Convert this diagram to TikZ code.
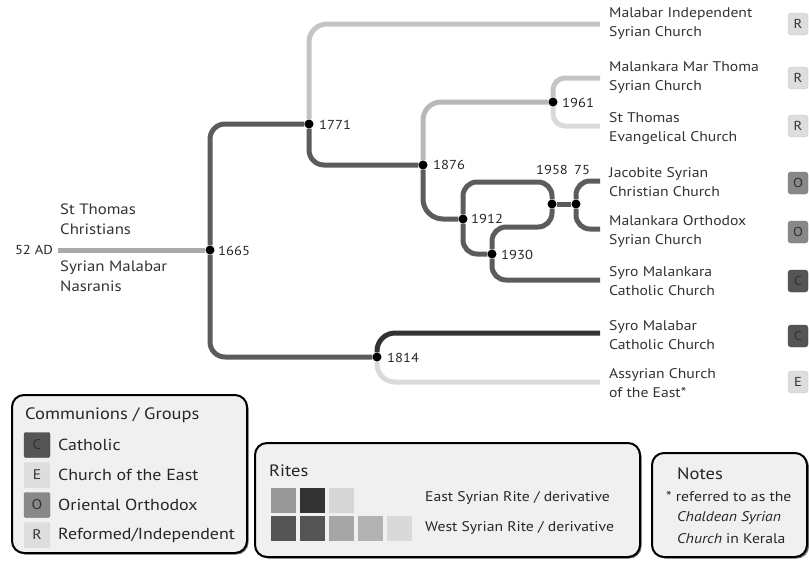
\documentclass[tikz,border=0pt]{standalone}
\usepackage{fontspec}
\setmainfont{PT Sans}[FakeStretch=1.12]
\usetikzlibrary{backgrounds}
\definecolor{trunk}{HTML}{AAAAAA}
\definecolor{dk}{HTML}{5C5C5C}
\definecolor{dkk}{HTML}{333333}
\definecolor{lt}{HTML}{C4C4C4}
\definecolor{ltt}{HTML}{DADADA}
\definecolor{mid}{HTML}{B8B8B8}
\definecolor{boxfill}{HTML}{F0F0F0}
\definecolor{tagC}{HTML}{555555}
\definecolor{tagO}{HTML}{888888}
\definecolor{tagL}{HTML}{DDDDDD}
\begin{document}
\begin{tikzpicture}[x=1pt,y=-1pt,
  br/.style={line width=5pt,rounded corners=15pt},
  dot/.style={circle,fill=black,inner sep=0pt,minimum size=9pt},
  yr/.style={anchor=west,font=\fontsize{13}{14}\selectfont,inner sep=0pt,text=black!85},
  leaf/.style={anchor=west,align=left,font=\fontsize{14}{19}\selectfont,inner sep=0pt,text=black!80},
  tagbox/.style={minimum width=20pt,minimum height=22pt,inner sep=0pt,rounded corners=3pt,font=\fontsize{13}{14}\selectfont,text=black!80},
  lsq/.style={minimum width=26pt,minimum height=25pt,inner sep=0pt,rounded corners=2pt,font=\fontsize{14}{15}\selectfont,text=black!80},
  rsq/.style={minimum size=25pt,inner sep=0pt},
  legshadow/.style={fill=black!55,rounded corners=12pt},
  legbox/.style={draw=black,line width=2pt,fill=boxfill,rounded corners=12pt},
  legtitle/.style={anchor=west,inner sep=0pt,font=\fontsize{16.5}{18}\selectfont,text=black!85},
  legtext/.style={anchor=west,inner sep=0pt,font=\fontsize{16}{17}\selectfont,text=black!85},
  rtext/.style={anchor=west,inner sep=0pt,font=\fontsize{14}{15}\selectfont,text=black!85}
]
\useasboundingbox (0,0) rectangle (809,560);

% dots (branch points)
\node[dot] (n1665) at (210,250) {};
\node[dot] (n1771) at (309,124) {};
\node[dot] (n1876) at (423,165) {};
\node[dot] (n1961) at (553,102) {};
\node[dot] (n1912) at (463,219) {};
\node[dot] (n1930) at (492,254) {};
\node[dot] (n1958) at (552,204) {};
\node[dot] (n1975) at (576,204) {};
\node[dot] (n1814) at (377,357) {};

% leaf ends
\coordinate (start) at (58,250);
\coordinate (lMIS) at (600,24);
\coordinate (lMMT) at (600,78);
\coordinate (lSTE) at (600,126);
\coordinate (lJSC) at (600,181);
\coordinate (lMOS) at (600,229);
\coordinate (lSMC) at (600,280);
\coordinate (lSYM) at (600,333);
\coordinate (lACE) at (600,382);

\begin{scope}[on background layer]
  \draw[br,trunk] (start) -- (n1665);
  \draw[br,dk] (n1665) |- (n1771);
  \draw[br,dk] (n1665) |- (n1814);
  \draw[br,lt,rounded corners=18pt] (n1771) |- (lMIS);
  \draw[br,dk] (n1771) |- (n1876);
  \draw[br,mid,rounded corners=18pt] (n1876) |- (n1961);
  \draw[br,lt,rounded corners=12pt] (n1961) |- (lMMT);
  \draw[br,ltt,rounded corners=12pt] (n1961) |- (lSTE);
  \draw[br,dk,rounded corners=20pt] (n1876) |- (n1912);
  \draw[br,dk,rounded corners=14pt] (n1912) -- (463,182) -- (552,182) -- (n1958);
  \draw[br,dk,rounded corners=14pt] (n1930) -- (492,227) -- (552,227) -- (n1958);
  \draw[br,dk,rounded corners=14pt] (n1912) |- (n1930);
  \draw[br,dk] (n1958) -- (n1975);
  \draw[br,dk,rounded corners=14pt] (n1975) |- (lJSC);
  \draw[br,dk,rounded corners=14pt] (n1975) |- (lMOS);
  \draw[br,dk,rounded corners=14pt] (n1930) |- (lSMC);
  \draw[br,dkk,rounded corners=18pt] (n1814) |- (lSYM);
  \draw[br,ltt,rounded corners=18pt] (n1814) |- (lACE);
\end{scope}

% year labels
\node[yr] (y1665) at (218,251) {1665};
\node[yr] (y1771) at (319,125) {1771};
\node[yr] (y1876) at (433,165) {1876};
\node[yr] (y1961) at (562,103) {1961};
\node[yr] (y1912) at (471,219) {1912};
\node[yr] (y1930) at (501,255) {1930};
\node[yr,anchor=center] (y1958) at (552,170) {1958};
\node[yr,anchor=center] (y1975) at (582,170) {75};
\node[yr] (y1814) at (387,358) {1814};

% left labels
\node[yr,anchor=east] (ad) at (53,250) {52 AD};
\node[leaf,font=\fontsize{15}{20}\selectfont] (stc) at (60,219) {St Thomas\\Christians};
\node[leaf,font=\fontsize{15}{20}\selectfont] (smn) at (60,276) {Syrian Malabar\\Nasranis};

% leaf labels
\node[leaf] (tMIS) at (609,24) {Malabar Independent\\Syrian Church};
\node[leaf] (tMMT) at (609,78) {Malankara Mar Thoma\\Syrian Church};
\node[leaf] (tSTE) at (609,128) {St Thomas\\Evangelical Church};
\node[leaf] (tJSC) at (609,182) {Jacobite Syrian\\Christian Church};
\node[leaf] (tMOS) at (609,231) {Malankara Orthodox\\Syrian Church};
\node[leaf] (tSMC) at (609,281) {Syro Malankara\\Catholic Church};
\node[leaf] (tSYM) at (609,335) {Syro Malabar\\Catholic Church};
\node[leaf] (tACE) at (609,383) {Assyrian Church\\of the East*};

% tags
\node[tagbox,fill=tagL,draw=black!20] (gMIS) at (798,24) {R};
\node[tagbox,fill=tagL,draw=black!20] (gMMT) at (798,78) {R};
\node[tagbox,fill=tagL,draw=black!20] (gSTE) at (798,126) {R};
\node[tagbox,fill=tagO,draw=black!55] (gJSC) at (798,183) {O};
\node[tagbox,fill=tagO,draw=black!55] (gMOS) at (798,232) {O};
\node[tagbox,fill=tagC,draw=black!75] (gSMC) at (798,281) {C};
\node[tagbox,fill=tagC,draw=black!75] (gSYM) at (798,336) {C};
\node[tagbox,fill=tagL,draw=black!20] (gACE) at (798,382) {E};

% legend 1
\fill[legshadow] (13.5,396.5) rectangle (248.5,554.5);
\draw[legbox] (12,395) rectangle (247,553);
\node[legtitle] (lt1) at (25,415) {Communions / Groups};
\node[lsq,fill=tagC,draw=black!75] (sqC) at (37,445) {C};
\node[lsq,fill=tagL,draw=black!15] (sqE) at (37,475) {E};
\node[lsq,fill=tagO,draw=black!55] (sqO) at (37,505) {O};
\node[lsq,fill=tagL,draw=black!15] (sqR) at (37,535) {R};
\node[legtext] at (58,445) {Catholic};
\node[legtext] at (58,475) {Church of the East};
\node[legtext] at (58,505) {Oriental Orthodox};
\node[legtext] at (58,535) {Reformed/Independent};

% legend 2
\fill[legshadow] (256.5,444.5) rectangle (641.5,558.5);
\draw[legbox] (255,443) rectangle (640,557);
\node[legtitle] (lt2) at (269,471) {Rites};
\node[rsq,fill=black!40] at (283.5,500) {};
\node[rsq,fill=black!80] at (312.5,500) {};
\node[rsq,fill=black!16] at (341.5,500) {};
\node[rsq,fill=black!67] at (283.5,528) {};
\node[rsq,fill=black!67] at (312.5,528) {};
\node[rsq,fill=black!35] at (341.5,528) {};
\node[rsq,fill=black!30] at (370.5,528) {};
\node[rsq,fill=black!15] at (399.5,528) {};
\node[rtext] at (425,498) {East Syrian Rite / derivative};
\node[rtext] at (425,528) {West Syrian Rite / derivative};

% legend 3
\fill[legshadow] (653.5,454.5) rectangle (809,558.5);
\draw[legbox] (652,453) rectangle (807,557);
\node[legtitle] (lt3) at (677,474) {Notes};
\node[rtext] at (666,497) {* referred to as the};
\node[rtext] at (677,518) {\itshape Chaldean Syrian};
\node[rtext] at (677,539) {\textit{Church} in Kerala};
\end{tikzpicture}
\end{document}
